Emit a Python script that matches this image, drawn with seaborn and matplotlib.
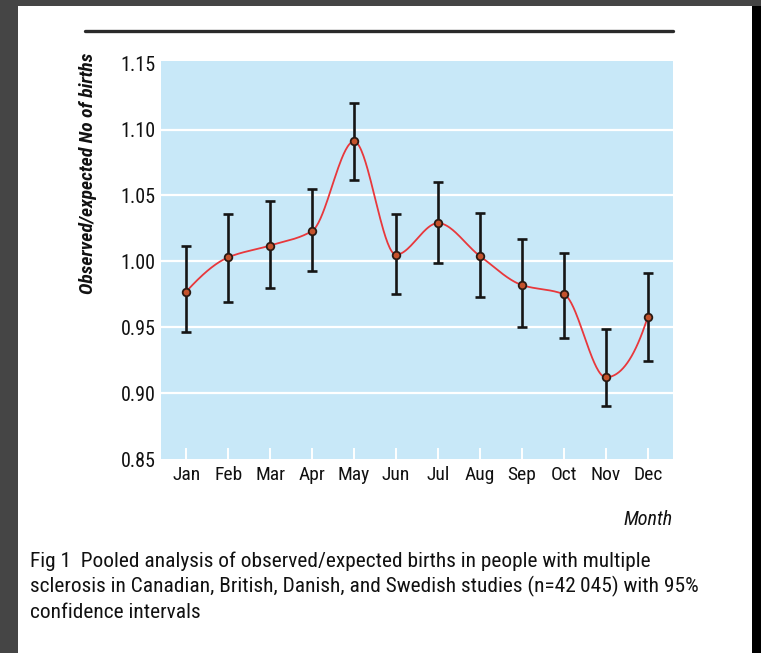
import numpy as np
import pandas as pd
import matplotlib
matplotlib.use("Agg")
import matplotlib.pyplot as plt
from matplotlib.patches import Rectangle
from matplotlib.lines import Line2D
import seaborn as sns

# Pooled observed/expected births by month of birth, with 95% CI
months = ["Jan", "Feb", "Mar", "Apr", "May", "Jun",
          "Jul", "Aug", "Sep", "Oct", "Nov", "Dec"]
ratio = [0.977, 1.003, 1.012, 1.023, 1.091, 1.005,
         1.029, 1.004, 0.982, 0.975, 0.912, 0.958]
ci_low = [0.946, 0.969, 0.980, 0.993, 1.062, 0.975,
          0.999, 0.973, 0.950, 0.942, 0.890, 0.924]
ci_high = [1.012, 1.036, 1.046, 1.055, 1.120, 1.036,
           1.060, 1.037, 1.017, 1.006, 0.949, 0.991]
y_ticks = [0.85, 0.90, 0.95, 1.00, 1.05, 1.10, 1.15]
y_tick_labels = ["0.85", "0.90", "0.95", "1.00", "1.05", "1.10", "1.15"]

df = pd.DataFrame({"pos": np.arange(len(months)), "month": months,
                   "ratio": ratio, "lo": ci_low, "hi": ci_high})


def pchip_curve(x, y, n=40):
    """Shape-preserving cubic through the points (Fritsch-Carlson)."""
    x = np.asarray(x, float)
    y = np.asarray(y, float)
    h = np.diff(x)
    d = np.diff(y) / h
    m = np.zeros_like(y)
    for k in range(1, len(y) - 1):
        if d[k - 1] * d[k] > 0:
            w1 = 2 * h[k] + h[k - 1]
            w2 = h[k] + 2 * h[k - 1]
            m[k] = (w1 + w2) / (w1 / d[k - 1] + w2 / d[k])
    def end(h0, h1, d0, d1):
        s = ((2 * h0 + h1) * d0 - h0 * d1) / (h0 + h1)
        if np.sign(s) != np.sign(d0):
            s = 0.0
        elif np.sign(d0) != np.sign(d1) and abs(s) > abs(3 * d0):
            s = 3 * d0
        return s
    m[0] = end(h[0], h[1], d[0], d[1])
    m[-1] = end(h[-1], h[-2], d[-1], d[-2])
    xs, ys = [], []
    for k in range(len(x) - 1):
        t = np.linspace(0, 1, n, endpoint=(k == len(x) - 2))
        h00 = 2 * t**3 - 3 * t**2 + 1
        h10 = t**3 - 2 * t**2 + t
        h01 = -2 * t**3 + 3 * t**2
        h11 = t**3 - t**2
        xs.append(x[k] + t * h[k])
        ys.append(h00 * y[k] + h10 * h[k] * m[k] + h01 * y[k + 1] + h11 * h[k] * m[k + 1])
    return np.concatenate(xs), np.concatenate(ys)


sns.set_theme(style="white")
narrow = ["Roboto Condensed", "Archivo Narrow", "DejaVu Sans"]
plt.rcParams["font.family"] = narrow

W, H = 761, 653
fig = plt.figure(figsize=(W / 100, H / 100), dpi=100, facecolor="#454545")

# page frame
fig.patches.append(Rectangle((18 / W, 0), (752 - 18) / W, 1 - 6 / H,
                             transform=fig.transFigure, facecolor="white",
                             edgecolor="none", zorder=-10))
fig.patches.append(Rectangle((752 / W, 0), 9 / W, 1 - 6 / H,
                             transform=fig.transFigure, facecolor="black",
                             edgecolor="none", zorder=-10))
# rule above the figure
fig.lines.append(Line2D([85 / W, 673 / W], [1 - 31 / H, 1 - 31 / H],
                        transform=fig.transFigure, color="#2a2a2a", lw=2.4))

ax = fig.add_axes([161 / W, 1 - 459 / H, (673 - 161) / W, (459 - 61) / H])
ax.set_facecolor("#c8e8f8")
for s in ax.spines.values():
    s.set_visible(False)

ax.set_xlim(-0.6, 11.6)
ax.set_ylim(0.85, 1.152)

for v in y_ticks[1:-1]:
    ax.axhline(v, color="white", lw=1.6, zorder=1)

ax.errorbar(df["pos"], df["ratio"],
            yerr=[df["ratio"] - df["lo"], df["hi"] - df["ratio"]],
            fmt="none", ecolor="#151515", elinewidth=1.9, capsize=3.6,
            capthick=1.9, zorder=3)

cx, cy = pchip_curve(df["pos"], df["ratio"])
sns.lineplot(x=cx, y=cy, ax=ax, color="#e8383c", lw=1.3, estimator=None,
             sort=False, zorder=4)
sns.scatterplot(data=df, x="pos", y="ratio", ax=ax, s=30, color="#c4522c",
                edgecolor="#2a1a14", linewidth=1.3, zorder=5)

ax.set_xticks(df["pos"])
ax.set_xticklabels(months, fontsize=14)
ax.set_yticks(y_ticks)
ax.set_yticklabels(y_tick_labels, fontsize=14.5)
ax.tick_params(axis="x", direction="in", length=8, width=1.4, color="white",
               pad=5, labelcolor="#111111", bottom=True)
ax.tick_params(axis="y", length=0, pad=4, labelcolor="#111111")
ax.set_xlabel("")
ax.set_ylabel("")

ax.text(-0.1426, 1.02, "Observed/expected No of births", transform=ax.transAxes,
        rotation=90, ha="center", va="top", fontsize=14, style="italic",
        weight="bold", color="#111111")
ax.text(1.0, -0.153, "Month", transform=ax.transAxes, ha="right",
        va="center", fontsize=14.5, style="italic", color="#111111")

caption = [
    "Fig 1  Pooled analysis of observed/expected births in people with multiple",
    "sclerosis in Canadian, British, Danish, and Swedish studies (n=42\u2009045) with 95%",
    "confidence intervals",
]
for i, line in enumerate(caption):
    fig.text(30 / W, 1 - (567 + 25.5 * i) / H, line, ha="left", va="baseline",
             fontsize=15.4, color="#111111")

fig.savefig("out.png", dpi=100, facecolor=fig.get_facecolor())
